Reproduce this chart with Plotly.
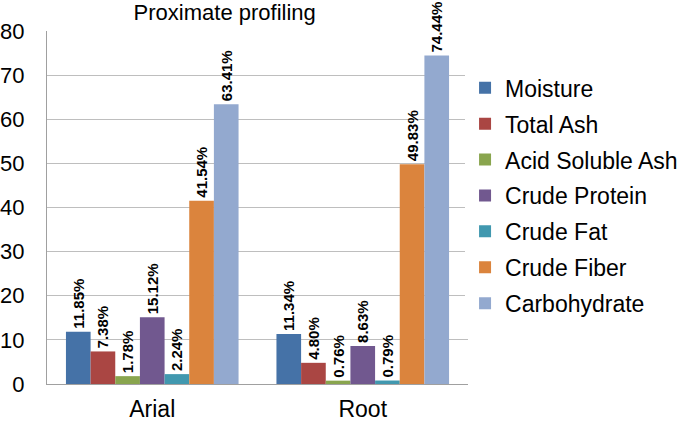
import plotly.graph_objects as go

categories = ["Arial", "Root"]
series_names = ["Moisture", "Total Ash", "Acid Soluble Ash", "Crude Protein",
                "Crude Fat", "Crude Fiber", "Carbohydrate"]
arial_values = [11.85, 7.38, 1.78, 15.12, 2.24, 41.54, 63.41]
root_values = [11.34, 4.80, 0.76, 8.63, 0.79, 49.83, 74.44]
colors = ["#4572A7", "#AA4643", "#89A54E", "#71588F", "#4198AF", "#DB843D", "#93A9CF"]
y_ticks = [0, 10, 20, 30, 40, 50, 60, 70, 80]

fig = go.Figure()
for i, name in enumerate(series_names):
    vals = [arial_values[i], root_values[i]]
    fig.add_trace(go.Bar(
        x=categories, y=vals, name=name, legendgroup=name,
        marker=dict(color=colors[i], line=dict(width=0)),
        text=[f"{v:.2f}%" for v in vals],
        textposition="outside", textangle=-90, cliponaxis=False,
        constraintext="none",
        textfont=dict(family="Liberation Sans", size=15, color="black", weight="bold"),
    ))

fig.update_layout(
    width=685, height=422,
    margin=dict(l=47, r=217, t=31, b=38, autoexpand=False),
    paper_bgcolor="white", plot_bgcolor="white",
    barmode="group", bargap=0.18, bargroupgap=0,
    font=dict(family="Liberation Sans", color="black"),
    title=dict(text="Proximate profiling", x=0.328, xanchor="center", y=0.988, yanchor="top",
               font=dict(size=22, color="black")),
    legend=dict(x=0.993, y=0.9, xanchor="left", yanchor="top",
                font=dict(size=23, color="black"), tracegroupgap=3,
                itemwidth=30),
)
fig.update_yaxes(range=[0, 80], tickvals=y_ticks, showgrid=True, gridcolor="#BEBEBE",
                 gridwidth=1, showline=True, linecolor="#A0A0A0", zeroline=False,
                 tickfont=dict(size=22, color="black"), ticks="", ticklabelstandoff=17,
                 automargin=False)
fig.update_xaxes(showline=True, linecolor="#A0A0A0", tickfont=dict(size=23, color="black"),
                 ticks="", ticklabelstandoff=4, automargin=False)
fig.write_html("out.html", config={"displayModeBar": False},
               post_script="document.body.style.margin='0px';")
